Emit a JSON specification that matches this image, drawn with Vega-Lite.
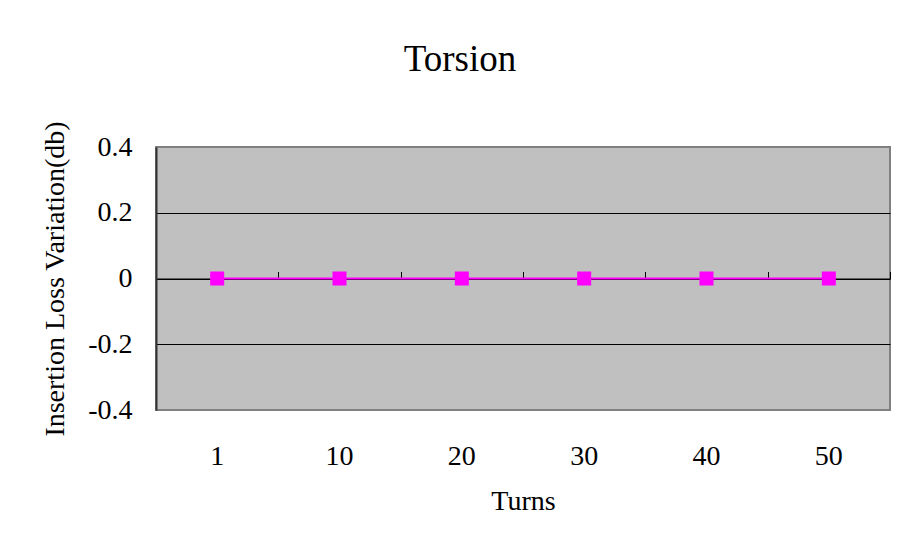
{
  "$schema": "https://vega.github.io/schema/vega-lite/v6.json",
  "width": 734,
  "height": 263,
  "autosize": {"type": "none"},
  "padding": {"left": 156, "top": 147, "right": 13, "bottom": 134},
  "background": "white",
  "title": {"text": "Torsion", "font": "Liberation Serif", "fontSize": 37, "fontWeight": "normal", "color": "black", "offset": 42, "dx": -63, "anchor": "middle"},
  "config": {
    "view": {"fill": "#C0C0C0", "stroke": "#808080", "strokeWidth": 2},
    "axis": {"labelFont": "Liberation Serif", "titleFont": "Liberation Serif", "labelColor": "black", "titleColor": "black", "titleFontWeight": "normal"}
  },
  "data": {"values": [
    {"Turns": "1", "Variation": 0},
    {"Turns": "10", "Variation": 0},
    {"Turns": "20", "Variation": 0},
    {"Turns": "30", "Variation": 0},
    {"Turns": "40", "Variation": 0},
    {"Turns": "50", "Variation": 0}
  ]},
  "resolve": {"axis": {"x": "independent"}},
  "layer": [
    {
      "mark": {"type": "point", "opacity": 0},
      "encoding": {
        "x": {"field": "Turns", "type": "ordinal", "sort": null, "bandPosition": 0.5,
          "scale": {"type": "band", "paddingInner": 0, "paddingOuter": 0},
          "axis": {"orient": "top", "offset": -131.5, "domain": true, "domainColor": "black", "domainWidth": 1, "ticks": true, "tickSize": 7, "tickColor": "black", "tickWidth": 1, "tickBand": "extent", "labels": false, "title": null, "grid": false}},
        "y": {"field": "Variation", "type": "quantitative",
          "scale": {"domain": [-0.4, 0.4], "nice": false, "zero": false},
          "axis": {"values": [-0.4, -0.2, 0, 0.2, 0.4], "labelExpr": "datum.value == 0 ? '0' : (datum.value < 0 ? '-' : '') + format(abs(datum.value), '.1f')", "labelFont": "Liberation Serif", "labelFontSize": 28, "labelPadding": 24, "labelColor": "black", "ticks": false, "domain": true, "domainColor": "#333333", "domainWidth": 2, "grid": true, "gridColor": {"condition": {"test": "abs(datum.value) > 0.3", "value": "#808080"}, "value": "black"}, "gridWidth": 1, "title": "Insertion Loss Variation(db)", "titleFont": "Liberation Serif", "titleFontWeight": "normal", "titleColor": "black", "titleFontSize": 28, "titlePadding": 18}}
      }
    },
    {
      "mark": {"type": "line", "color": "#FF00FF", "strokeWidth": 2},
      "encoding": {
        "x": {"field": "Turns", "type": "ordinal", "sort": null, "bandPosition": 0.5,
          "axis": {"orient": "bottom", "domain": false, "ticks": false, "labelAngle": 0, "labelFont": "Liberation Serif", "labelFontSize": 28, "labelPadding": 32, "grid": false, "title": "Turns", "titleFont": "Liberation Serif", "titleFontWeight": "normal", "titleFontSize": 28, "titlePadding": 17}},
        "y": {"field": "Variation", "type": "quantitative"}
      }
    },
    {
      "mark": {"type": "point", "shape": "square", "size": 196, "filled": true, "color": "#FF00FF", "opacity": 1},
      "encoding": {
        "x": {"field": "Turns", "type": "ordinal", "sort": null, "bandPosition": 0.5, "axis": null},
        "y": {"field": "Variation", "type": "quantitative"}
      }
    }
  ]
}
